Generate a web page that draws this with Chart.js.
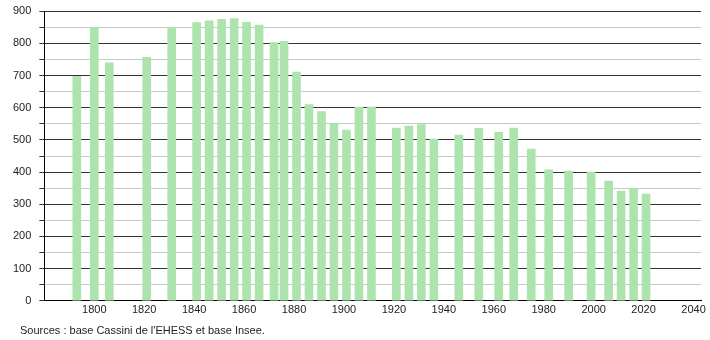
<!DOCTYPE html>
<html>
<head>
<meta charset="utf-8">
<script src="https://cdn.jsdelivr.net/npm/chart.js@4"></script>
<style>
  html, body { margin: 0; padding: 0; background: #fff; }
  #wrap { position: relative; width: 710px; height: 340px; }
  #source {
    position: absolute; left: 20px; top: 324px;
    font: 11px "Liberation Sans", Arial, sans-serif; color: #222;
  }
</style>
</head>
<body>
<div id="wrap">
  <canvas id="pop" width="710" height="340"></canvas>
  <div id="source">Sources : base Cassini de l'EHESS et base Insee.</div>
</div>
<script>
const years = [1793, 1800, 1806, 1821, 1831, 1836, 1841, 1846, 1851, 1856, 1861, 1866,
    1872, 1876, 1881, 1886, 1891, 1896, 1901, 1906, 1911, 1921, 1926, 1931, 1936,
    1946, 1954, 1962, 1968, 1975, 1982, 1990, 1999, 2006, 2011, 2016, 2021];
const population = [698, 850, 740, 757, 850, 850, 865, 870, 875, 877, 866, 857,
    803, 807, 711, 610, 588, 551, 531, 602, 602, 537, 543, 548, 503,
    515, 536, 524, 537, 472, 407, 403, 400, 372, 341, 350, 332];
// 1836 has no bar in the picture
const shown = years.map((y, i) => ({ x: y, y: population[i] })).filter(p => p.x !== 1836);

const yMax = 900;
const xMin = 1780;
const xMax = 2043;

Chart.defaults.font.family = '"Liberation Sans", Arial, sans-serif';
Chart.defaults.font.size = 11;
Chart.defaults.color = '#222';

new Chart(document.getElementById('pop'), {
    type: 'bar',
    data: {
        datasets: [{
            data: shown,
            backgroundColor: '#ade3ad',
            barThickness: 8,
        }],
    },
    options: {
        responsive: false,
        animation: false,
        layout: { padding: { left: 5, right: 9, top: 5, bottom: 20 } },
        plugins: {
            legend: { display: false },
            tooltip: { enabled: false },
        },
        scales: {
            x: {
                type: 'linear',
                min: xMin,
                max: xMax,
                offset: false,
                grid: { display: false, drawTicks: false },
                border: { display: true, color: '#000', width: 1 },
                ticks: {
                    stepSize: 20,
                    padding: 3,
                    maxRotation: 0,
                    autoSkip: false,
                    callback: v => (v % 20 === 0 && v > xMin) ? String(v) : '',
                },
                afterBuildTicks: axis => {
                    axis.ticks = [];
                    for (let v = 1800; v <= 2040; v += 20) axis.ticks.push({ value: v });
                },
            },
            y: {
                min: 0,
                max: yMax,
                grid: {
                    color: ctx => ctx.tick && ctx.tick.value % 100 === 0 ? '#333' : '#c8c8c8',
                    tickColor: '#333',
                    tickLength: 5,
                },
                border: { display: true, color: '#000', width: 1 },
                ticks: {
                    stepSize: 50,
                    padding: 8,
                    autoSkip: false,
                    font: { lineHeight: 0.6 },
                    callback: v => v % 100 === 0 ? String(v) : '',
                },
            },
        },
    },
});
</script>
</body>
</html>
